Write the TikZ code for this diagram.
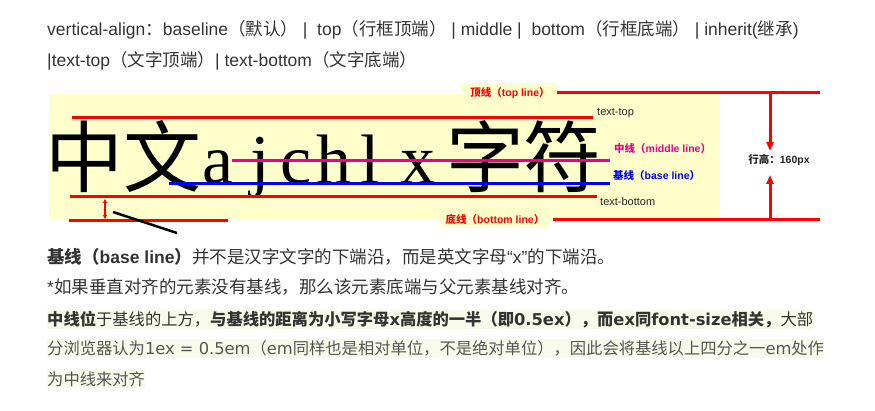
\documentclass[tikz,border=0pt]{standalone}
\usepackage{fontspec}
\setmainfont{Liberation Sans}
\newfontfamily\zhfont{Noto Sans CJK SC}
\newfontfamily\latfont{DejaVu Sans}
\newfontfamily\bigserif{Liberation Serif}
\usetikzlibrary{arrows.meta}

\definecolor{paper}{HTML}{FFFFCC}
\definecolor{hilite}{HTML}{F9FBEA}
\definecolor{bodytext}{HTML}{333333}
\definecolor{softtext}{HTML}{555555}
\newcommand{\zhtxt}[1]{{\zhfont #1}}
\newcommand{\lattxt}[1]{{\latfont #1}}

\tikzset{
  redline/.style={draw=red, line width=3pt},
  tagtext/.style={font=\fontsize{10.5}{12}\selectfont\bfseries, inner sep=0pt},
  linelabel/.style={font=\fontsize{11}{13}\selectfont, inner sep=0pt, text=black!85},
  para/.style={font=\fontsize{17.5}{19}\selectfont, inner sep=0pt, text=bodytext, anchor=base west},
  hlpara/.style={para, font=\zhfont\fontsize{16.3}{18}\selectfont, fill=hilite,
    text height=16pt, text depth=3pt}
}

\begin{document}
\begin{tikzpicture}[x=1pt, y=-1pt]
  \useasboundingbox (0,0) rectangle (875,411);

  % header
  \node[para] (head1) at (47,36)
    {vertical-align\zhtxt{：}baseline\zhtxt{（默认）}\ |\ \ top\zhtxt{（行框顶端）}\ |\ middle\ |\ \ bottom\zhtxt{（行框底端）}\ |\ inherit(\zhtxt{继承})};
  \node[para] (head2) at (47,67)
    {|text-top\zhtxt{（文字顶端）}| text-bottom\zhtxt{（文字底端）}};

  % yellow picture area
  \fill[paper] (49,94) rectangle (720,219);
  \fill[paper] (462,83) rectangle (557,94);
  \fill[paper] (440,219) rectangle (550,228);

  % sample text
  \foreach \px/\ch [count=\i] in {84/中, 162/文, 485/字, 562/符}
    \node[anchor=base, inner sep=0pt, font=\zhfont\fontsize{78}{80}\selectfont] (han\i) at (\px,187) {\ch};
  \foreach \px/\ch [count=\i] in {218/a, 260/j, 296/c, 334/h, 370/l, 418/x}
    \node[anchor=base, inner sep=0pt, font=\bigserif\fontsize{70}{72}\selectfont] (lat\i) at (\px,184) {\ch};

  % lines
  \draw[redline] (557,93) -- (820,93);
  \draw[redline] (72,118) -- (593,118);
  \draw[magenta, line width=3pt] (232,161) -- (610,161);
  \draw[blue, line width=3pt] (169,184) -- (610,184);
  \draw[redline] (70,197) -- (597,197);
  \draw[redline] (69,221) -- (228,221);
  \draw[redline] (553,220) -- (820,220);
  \draw[red, line width=1.5pt, {Triangle[length=4pt,width=4pt]}-{Triangle[length=4pt,width=4pt]}] (105,199) -- (105,219);
  \draw[black, line width=2.5pt] (113,212) -- (177,233);

  % labels
  \node[tagtext, text=red] (toplbl) at (510,93) {\zhtxt{顶线（}top line\zhtxt{）}};
  \node[linelabel, anchor=west] (ttlbl) at (597,113) {text-top};
  \node[tagtext, text=magenta, anchor=west] (midlbl) at (614,149) {\zhtxt{中线（}middle line\zhtxt{）}};
  \node[tagtext, text=blue, anchor=west] (baselbl) at (613,176) {\zhtxt{基线（}base line\zhtxt{）}};
  \node[linelabel, anchor=west] (tblbl) at (600,202) {text-bottom};
  \node[tagtext, text=red] (botlbl) at (495,220) {\zhtxt{底线（}bottom line\zhtxt{）}};
  \node[tagtext, text=black!85] (heightlbl) at (779,160) {\zhtxt{行高：}160px};

  \coordinate (hTop) at (770,93);
  \coordinate (hBot) at (770,220);
  \draw[redline, -{Triangle[length=9pt,width=7pt]}] (hTop) -- (770,151);
  \draw[redline, -{Triangle[length=9pt,width=7pt]}] (hBot) -- (770,175);

  % notes below
  \node[para] (note1) at (47,264)
    {{\bfseries\zhtxt{基线（}base line\zhtxt{）}}\zhtxt{并不是汉字文字的下端沿，而是英文字母}“x”\zhtxt{的下端沿。}};
  \node[para] (note2) at (47,294)
    {*\zhtxt{如果垂直对齐的元素没有基线，那么该元素底端与父元素基线对齐。}};
  \node[hlpara] (note3) at (47,326)
    {{\bfseries 中线位}于基线的上方，{\bfseries 与基线的距离为小写字母\lattxt{x}高度的一半（即\lattxt{0.5ex}），而\lattxt{ex}同\lattxt{font-size}相关，}大部};
  \node[hlpara, text=softtext] (note4) at (47,355)
    {分浏览器认为\lattxt{1ex = 0.5em}（\lattxt{em}同样也是相对单位，不是绝对单位），因此会将基线以上四分之一\lattxt{em}处作};
  \node[hlpara, text=softtext] (note5) at (47,385) {为中线来对齐};
\end{tikzpicture}
\end{document}
